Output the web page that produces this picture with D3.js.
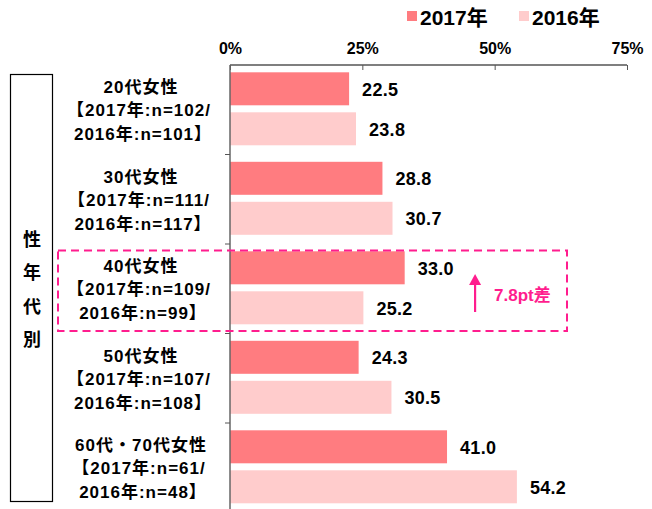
<!DOCTYPE html>
<html><head><meta charset="utf-8">
<script src="https://cdn.jsdelivr.net/npm/d3@7"></script>
<style>
body{margin:0;background:#fff;}
text{font-family:"Liberation Sans","Noto Sans CJK JP",sans-serif;font-weight:bold;fill:#000;}
</style></head>
<body><svg id="c" width="652" height="509"></svg>
<script>
const categories = ["20代女性","30代女性","40代女性","50代女性","60代・70代女性"];
const nLine1 = ["【2017年:n=102/","【2017年:n=111/","【2017年:n=109/","【2017年:n=107/","【2017年:n=61/"];
const nLine2 = ["2016年:n=101】","2016年:n=117】","2016年:n=99】","2016年:n=108】","2016年:n=48】"];
const series = ["2017年","2016年"];
const values2017 = [22.5, 28.8, 33.0, 24.3, 41.0];
const values2016 = [23.8, 30.7, 25.2, 30.5, 54.2];
const ticks = [0, 25, 50, 75];
const groupTitle = ["性","年","代","別"];
const highlightIndex = 2;
const diffLabel = "7.8pt差";
const colors = ["#FF7C80", "#FFCCCC"];
const accent = "#FF1D8E";

const svg = d3.select("#c");
const x = d3.scaleLinear().domain([0,75]).range([230,627]);
const y = d3.scaleBand().domain(categories).range([65, 65+5*89.5]).paddingInner(0).paddingOuter(0);
const barH = 33, off1 = 7.3, off2 = 47.3;

// bars
const rows = categories.map((c,i)=>({c, v:[values2017[i], values2016[i]]}));
rows.forEach((r,i)=>{
  r.v.forEach((v,s)=>{
    const yy = y(r.c) + (s===0?off1:off2);
    svg.append("rect").attr("x", x(0)).attr("y", yy)
      .attr("width", x(v)-x(0)).attr("height", barH).attr("fill", colors[s]);
    svg.append("text").attr("x", x(v)+13).attr("y", yy+barH/2+1)
      .attr("dominant-baseline","central").attr("font-size",18).attr("letter-spacing",0.3).text(v.toFixed(1));
  });
});

// top axis
const axTop = d3.axisTop(x).tickValues(ticks).tickFormat(d=>d+"%").tickSize(-5).tickPadding(11);
const gx = svg.append("g").attr("transform","translate(0,65)").call(axTop);
gx.select(".domain").attr("stroke","#555").attr("stroke-width",1.3).attr("d", `M${x(0)},0H${x(75)}`);
gx.selectAll(".tick line").attr("stroke","#555");
gx.selectAll(".tick text").attr("font-size",16).attr("font-family","Liberation Sans").attr("font-weight","bold").attr("fill","#000");

// left axis
svg.append("line").attr("x1",x(0)).attr("x2",x(0)).attr("y1",65).attr("y2",509).attr("stroke","#666").attr("stroke-width",1.5);
categories.slice(1).forEach(c=>{
  svg.append("line").attr("x1",x(0)-5).attr("x2",x(0)).attr("y1",y(c)).attr("y2",y(c)).attr("stroke","#555");
});

// category labels
categories.forEach((c,i)=>{
  const cy = y(c)+y.bandwidth()/2;
  const t = svg.append("text").attr("text-anchor","middle").attr("font-size",17).attr("letter-spacing",1);
  t.append("tspan").attr("x",141).attr("y",cy-22).attr("dominant-baseline","central").text(c);
  t.append("tspan").attr("x",139).attr("y",cy+1).attr("dominant-baseline","central").text(nLine1[i]);
  t.append("tspan").attr("x",143).attr("y",cy+25).attr("dominant-baseline","central").text(nLine2[i]);
});

// group box
svg.append("rect").attr("x",10.5).attr("y",74.5).attr("width",42).attr("height",427).attr("fill","none").attr("stroke","#000").attr("stroke-width",1.2);
groupTitle.forEach((g,i)=>{
  svg.append("text").attr("x",32).attr("y",240+i*33.3).attr("text-anchor","middle").attr("dominant-baseline","central")
    .attr("font-size",18).text(g);
});

// legend
series.forEach((s,i)=>{
  const lx = 407 + i*112;
  svg.append("rect").attr("x",lx).attr("y",11).attr("width",10).attr("height",10).attr("fill",colors[i]);
  svg.append("text").attr("x",lx+13).attr("y",17).attr("dominant-baseline","central").attr("font-size",21).text(s);
});

// highlight annotation
const hy = y(categories[highlightIndex]);
svg.append("rect").attr("x",58).attr("y",hy+6.5).attr("width",509).attr("height",80.5)
  .attr("fill","none").attr("stroke",accent).attr("stroke-width",2).attr("stroke-dasharray","8,5");
const ax = x(46.3);
svg.append("line").attr("x1",ax).attr("x2",ax).attr("y1",hy+39).attr("y2",hy+68).attr("stroke",accent).attr("stroke-width",2.2);
svg.append("path").attr("d",`M${ax},${hy+30}L${ax-6},${hy+41}L${ax+6},${hy+41}Z`).attr("fill",accent);
svg.append("text").attr("x",ax+19).attr("y",hy+51).attr("dominant-baseline","central").attr("font-size",17)
  .style("fill",accent).text(diffLabel);
</script></body></html>
